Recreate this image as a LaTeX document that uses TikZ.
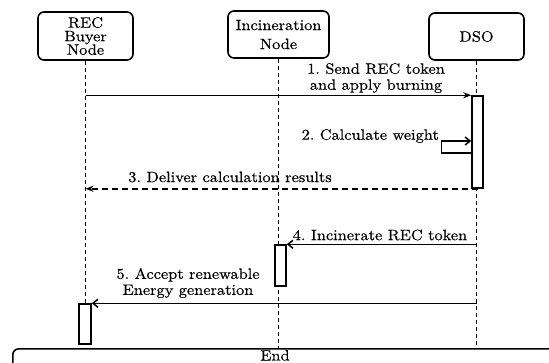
\documentclass[tikz,border=0pt]{standalone}
\usepackage{fontspec}
\setmainfont{lmroman10-regular.otf}[FakeStretch=1.09, FakeBold=0.4]
\usetikzlibrary{arrows.meta}
\frenchspacing
\begin{document}
\begin{tikzpicture}[x=1pt,y=-1pt,
  every node/.style={font=\fontsize{15}{16}\selectfont},
  actor/.style={draw, rounded corners=6pt, line width=1.6pt, align=center, inner sep=0pt},
  life/.style={dash pattern=on 4pt off 3pt, line width=1.2pt},
  act/.style={draw, fill=white, line width=1.5pt, inner sep=0pt, minimum width=11pt},
  msg/.style={line width=1.5pt, -{Stealth[length=8pt,width=6pt]}},
  ret/.style={line width=1.5pt, dash pattern=on 6pt off 4pt, -{Stealth[length=8pt,width=6pt]}},
  open/.style={line width=1.5pt, -{Straight Barb[length=5pt,width=8pt]}},
  lbl/.style={align=center, inner sep=0pt}]
\clip (0,0) rectangle (549,362);
\useasboundingbox (0,0) rectangle (549,362);
\fill[white] (0,0) rectangle (549,362);

\node[actor, minimum width=95pt, minimum height=48pt, font=\fontsize{15}{13.5}\selectfont] (buyer) at (85.5,36) {REC\\Buyer\\Node};
\node[actor, minimum width=101pt, minimum height=47pt, font=\fontsize{15}{19}\selectfont] (inc) at (278.5,34.5) {Incineration\\Node};
\node[actor, minimum width=95pt, minimum height=47pt] (dso) at (476.5,36.5) {DSO};

\node[draw, rounded corners=6pt, line width=1.6pt, minimum width=560pt, minimum height=40pt, anchor=north west, inner sep=0pt] (endbox) at (12,348) {};
\node[anchor=base, inner sep=0pt] (endlbl) at (275,360.5) {End};

\draw[life] (buyer.south) -- (buyer.south |- endbox.north);
\draw[life] (inc.south) -- (inc.south |- endbox.north);
\draw[life] (dso.south) -- (dso.south |- endbox.north);

\node[act, minimum height=92pt] (dsoact) at (477.5,142) {};
\node[act, minimum height=41pt] (incact) at (280.5,265.5) {};
\node[act, minimum height=40pt, minimum width=12pt] (buyact) at (85,324) {};

% 1
\draw[msg] (buyer.south |- dsoact.north) -- (dsoact.north west);
\node[lbl] (l1) at (376,78) {1. Send REC token\\and apply burning};
% 2
\coordinate (s2a) at ([yshift=-11pt]dsoact.west);
\coordinate (s2b) at ([yshift=1pt]dsoact.west);
\draw[open] (s2a) -- ++(-30,0) |- (s2b);
\node[lbl, anchor=east] (l2) at (439,136) {2. Calculate weight};
% 3
\draw[ret] (dsoact.south) -- (buyer.south |- dsoact.south);
\node[lbl] (l3) at (230,177) {3. Deliver calculation results};
% 4
\draw[open] (dso.south |- incact.north) -- (incact.north east);
\node[lbl] (l4) at (380,235) {4. Incinerate REC token};
% 5
\draw[open] (dso.south |- buyact.north) -- (buyact.north east);
\node[lbl] (l5) at (188,283) {5. Accept renewable\\Energy generation};
\end{tikzpicture}
\end{document}
